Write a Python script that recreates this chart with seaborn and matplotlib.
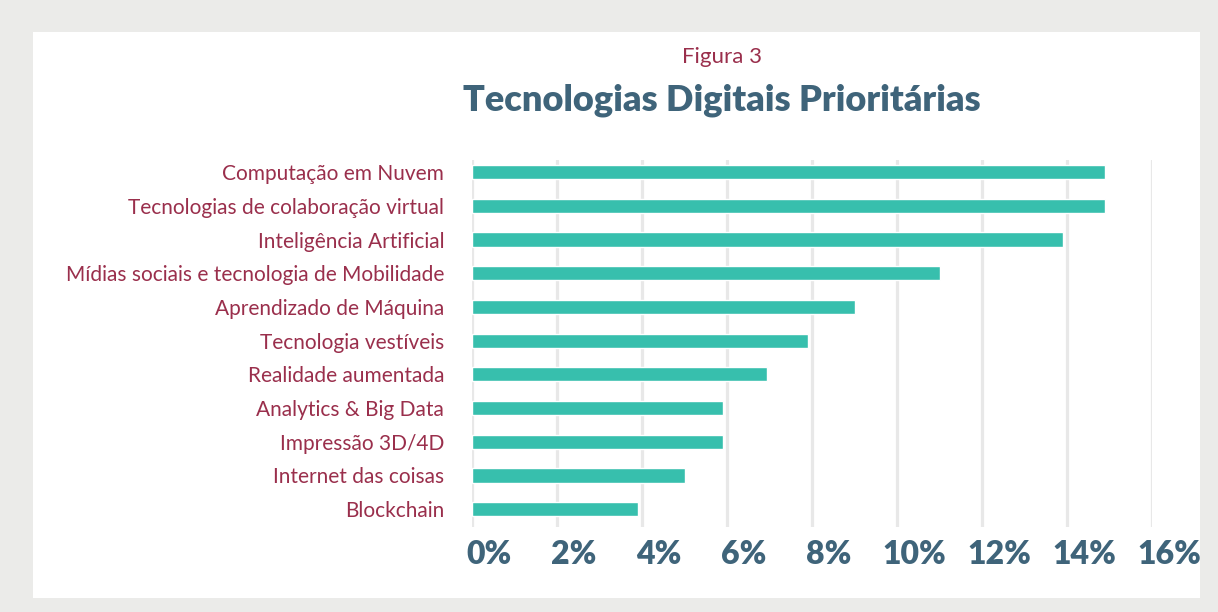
import pandas as pd
import numpy as np
import matplotlib.pyplot as plt
import matplotlib.transforms as mtransforms
import seaborn as sns
from matplotlib.patches import Rectangle

# dados da figura 3
tecnologias = [
    'Computação em Nuvem',
    'Tecnologias de colaboração virtual',
    'Inteligência Artificial',
    'Mídias sociais e tecnologia de Mobilidade',
    'Aprendizado de Máquina',
    'Tecnologia vestíveis',
    'Realidade aumentada',
    'Analytics & Big Data',
    'Impressão 3D/4D',
    'Internet das coisas',
    'Blockchain',
]
percentual = [14.9, 14.9, 13.9, 11.0, 9.0, 7.9, 6.95, 5.9, 5.9, 5.0, 3.9]
ticks = [0, 2, 4, 6, 8, 10, 12, 14, 16]
tick_labels = ['0%', '2%', '4%', '6%', '8%', '10%', '12%', '14%', '16%']

df = pd.DataFrame({'tecnologia': tecnologias, 'pct': percentual})

sns.set_style('white')
plt.rcParams['font.family'] = ['Lato', 'DejaVu Sans']

fig = plt.figure(figsize=(12.18, 6.12), dpi=100)
fig.patch.set_facecolor('#ebebe9')
# painel branco
fig.patches.append(Rectangle((33 / 1218, 1 - 598 / 612), (1200 - 33) / 1218, (598 - 32) / 612,
                             transform=fig.transFigure, facecolor='white', edgecolor='none', zorder=-5))

ax = fig.add_axes([472 / 1218, 1 - 527 / 612, (1152 - 472) / 1218, (527 - 160) / 612])
ax.set_facecolor('none')
sns.barplot(data=df, y='tecnologia', x='pct', color='#37bfad', saturation=1, width=0.42, ax=ax, zorder=3)

ax.set_xlim(0, 16)
ax.set_ylim(10.53, -0.36)
ax.set_xticks(ticks)
ax.set_xticklabels(tick_labels, fontsize=23, fontweight='heavy', color='#3f647a')
ax.tick_params(axis='x', length=0, pad=9)
ax.tick_params(axis='y', length=0, pad=20)
# rótulos do eixo x levemente deslocados para a direita, como no original
offset = mtransforms.ScaledTranslation(0.17, 0, fig.dpi_scale_trans)
for lbl in ax.get_xticklabels():
    lbl.set_transform(lbl.get_transform() + offset)
for lbl in ax.get_yticklabels():
    lbl.set_fontsize(15)
    lbl.set_fontweight('normal')
    lbl.set_color('#9a2f4c')
ax.set_xlabel('')
ax.set_ylabel('')
for x in ticks:
    ax.axvline(x, color='#e8e8e8', linewidth=2.3, zorder=1)
sns.despine(ax=ax, left=True, bottom=True)

fig.text(722 / 1218, 1 - 57 / 612, 'Figura 3', ha='center', va='center', fontsize=16,
         fontweight='normal', color='#9a2f4c')
fig.text(722 / 1218, 1 - 100 / 612, 'Tecnologias Digitais Prioritárias', ha='center', va='center',
         fontsize=26, fontweight='heavy', color='#3f647a')

fig.savefig('out.png', dpi=100, facecolor=fig.get_facecolor())
